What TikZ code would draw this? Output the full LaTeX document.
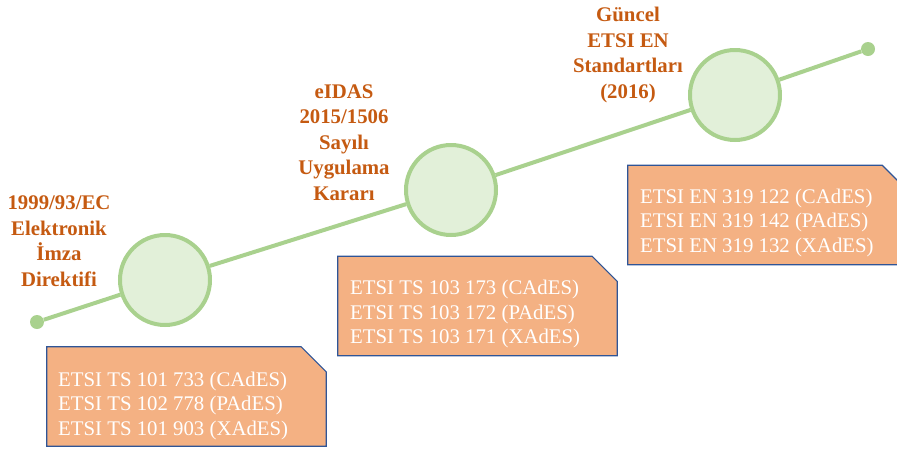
\documentclass[tikz,border=0pt]{standalone}
\usepackage{fontspec}
\setmainfont{Liberation Serif}
\definecolor{lgreen}{HTML}{A9D18E}
\definecolor{cfill}{HTML}{E2F0D9}
\definecolor{bfill}{HTML}{F4B183}
\definecolor{bdraw}{HTML}{2F5597}
\definecolor{ttl}{HTML}{C55A11}
\tikzset{
  milestone/.style={circle, draw=lgreen, line width=4pt, fill=cfill, minimum size=90pt, inner sep=0pt},
  enddot/.style={circle, fill=lgreen, minimum size=14pt, inner sep=0pt},
  tline/.style={draw=lgreen, line width=4pt},
  boxframe/.style={minimum width=279pt, minimum height=99pt, inner sep=0pt},
  boxline/.style={draw=bdraw, line width=1.2pt, fill=bfill},
  boxtext/.style={text=white, align=left, anchor=west, inner sep=0pt, font=\fontsize{20.8}{24.5}\selectfont},
  ttltext/.style={text=ttl, align=center, inner sep=0pt, font=\bfseries\fontsize{20.8}{25.5}\selectfont}
}
\begin{document}
\begin{tikzpicture}[x=1pt,y=-1pt]
\useasboundingbox (0,0) rectangle (897,448);
\clip (0,0) rectangle (897,448);
% endpoints and milestones
\node[enddot] (d1) at (37,322) {};
\node[enddot] (d2) at (868,49) {};
\node[milestone] (c1) at (165,280) {};
\node[milestone] (c2) at (451,190) {};
\node[milestone] (c3) at (735,95) {};
\draw[tline] (d1) -- (c1);
\draw[tline] (c1) -- (c2);
\draw[tline] (c2) -- (c3);
\draw[tline] (c3) -- (d2);
% titles
\node[ttltext] (h1) at (59,241) {1999/93/EC\\Elektronik\\İmza\\Direktifi};
\node[ttltext] (h2) at (344,142.5) {eIDAS\\2015/1506\\Sayılı\\Uygulama\\Kararı};
\node[ttltext] (h3) at (628,55) {Güncel\\ETSI EN\\Standartları\\(2016)};
% boxes
\node[boxframe] (b1) at (186.5,396.5) {};
\node[boxframe] (b2) at (477.5,306) {};
\node[boxframe] (b3) at (767.5,215) {};
\foreach \b in {b1,b2,b3}{
  \draw[boxline] (\b.south west) -- (\b.north west) -- ([xshift=-25pt]\b.north east)
    -- ([yshift=-25pt]\b.north east) -- (\b.south east) -- cycle;
}
\node[boxtext] (t1) at (58,405.5) {ETSI TS 101 733 (CAdES)\\ETSI TS 102 778 (PAdES)\\ETSI TS 101 903 (XAdES)};
\node[boxtext] (t2) at (350,314) {ETSI TS 103 173 (CAdES)\\ETSI TS 103 172 (PAdES)\\ETSI TS 103 171 (XAdES)};
\node[boxtext] (t3) at (640,222.5) {ETSI EN 319 122 (CAdES)\\ETSI EN 319 142 (PAdES)\\ETSI EN 319 132 (XAdES)};
\end{tikzpicture}
\end{document}
